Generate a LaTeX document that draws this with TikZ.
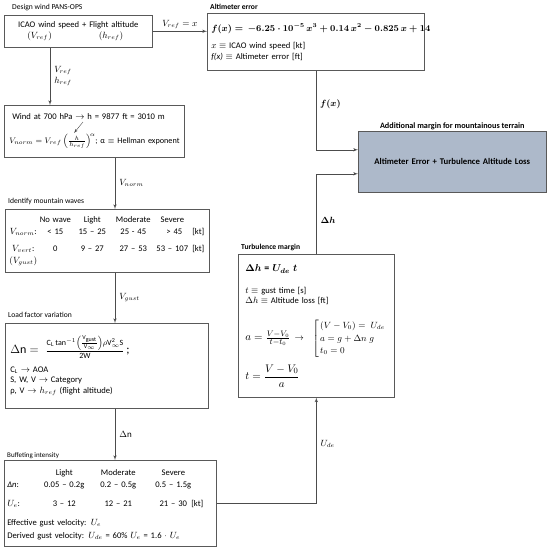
\documentclass[tikz,border=0pt]{standalone}
\usepackage{amsmath}
\usepackage{fontspec}
\setmainfont{Carlito}
\usepackage{array}
\usepackage{tikz}
\usetikzlibrary{arrows, positioning, calc}
\newcolumntype{C}[1]{>{\centering\arraybackslash}p{#1}}
\newcolumntype{L}[1]{>{\raggedright\arraybackslash}p{#1}}
\setlength{\tabcolsep}{0pt}
\definecolor{targetfill}{HTML}{ADB9CA}
\tikzstyle{line} = [draw=black!70, line width=0.6pt, -latex']
\tikzstyle{box} = [rectangle, draw=black!65, line width=0.6pt, anchor=north west, inner xsep=5pt, inner ysep=0pt, align=left, font=\fontsize{8.6}{10.5}\selectfont]
\tikzstyle{head} = [anchor=south west, inner sep=1pt, font=\fontsize{7.6}{9}\selectfont]
\tikzstyle{bhead} = [head, font=\fontsize{7.6}{9}\selectfont\bfseries]
\tikzstyle{lab} = [inner sep=2pt, font=\fontsize{9}{11}\selectfont]

\begin{document}
\begin{tikzpicture}[x=1pt, y=-1pt]
	\useasboundingbox (0,0) rectangle (550,550);
	
	% left column
	\node [box, minimum width=148pt, minimum height=32pt, text width=138pt, align=center] (icao) at (4,15)
	{ICAO wind speed + Flight altitude\\
	\makebox[138pt][l]{\hspace{18pt}$(V_{ref})$\hfill$(h_{ref})$\hspace{24pt}}};
	\node [head, xshift=7pt, yshift=3pt] (t-design) at (icao.north west) {Design wind PANS-OPS};
	
	\node [box, minimum width=180pt, minimum height=52pt, text width=170pt, inner xsep=5pt] (wind) at (4,105)
	{\hspace{3pt}Wind at 700 hPa $\rightarrow$ h = 9877 ft = 3010 m\\[13pt]
	{\fontsize{8.2}{10}\selectfont\mbox{$V_{norm} = V_{ref}\left(\frac{h}{h_{ref}}\right)^{\!\alpha}$; α $\equiv$ Hellman exponent}}};
	\coordinate (h-from) at ($(wind.north west)+(79,17)$);
	\coordinate (h-to) at ($(wind.north west)+(70,28)$);
	\path [draw=black!70, line width=0.4pt, -latex'] (h-from) -- (h-to);
	
	\node [box, minimum width=204pt, minimum height=63pt, text width=198pt, inner xsep=3pt, font=\fontsize{8.6}{12}\selectfont] (waves) at (5,209)
	{\begin{tabular}{@{}C{30pt}C{34pt}C{40pt}C{42pt}C{36pt}l@{}}
	& No wave & Light & Moderate & Severe & \\
	$V_{norm}$: & < 15 & 15 -- 25 & 25 - 45 & \hspace*{4pt}> 45 & \hspace*{2pt}[kt]\\[5pt]
	$V_{vert}$: & 0 & 9 -- 27 & 27 -- 53 & 53 -- 107 & \hspace*{2pt}[kt]\\
	$(V_{gust})$ & & & & & \\
	\end{tabular}};
	\node [head, xshift=2pt, yshift=3pt] (t-waves) at (waves.north west) {Identify mountain waves};
	
	\node [box, minimum width=203pt, minimum height=85pt, text width=193pt] (load) at (5,323)
	{{\fontsize{12}{14}\selectfont $\Delta\mathrm{n} = \;\frac{\mathrm{C_L}\tan^{-1}\left(\frac{\mathrm{V_{gust}}}{\mathrm{V_\infty}}\right)\rho\mathrm{V_\infty^2 S}}{\mathrm{2W}}$\,;}\\[8pt]
	C$_\mathrm{L}$ $\rightarrow$ AOA\\
	S, W, V $\rightarrow$ Category\\
	ρ, V $\rightarrow$ $h_{ref}$ (flight altitude)};
	\node [head, xshift=2pt, yshift=4pt] (t-load) at (load.north west) {Load factor variation};
	
	\node [box, minimum width=212pt, minimum height=86pt, text width=206pt, inner xsep=3pt, font=\fontsize{8.6}{12}\selectfont] (buff) at (4,460)
	{\begin{tabular}[b]{@{}L{31pt}C{52pt}C{56pt}C{54pt}@{}}
	& Light & Moderate & Severe\\
	\textit{Δn}: & 0.05 -- 0.2g & 0.2 -- 0.5g & 0.5 -- 1.5g\\[7pt]
	$U_e$: & 3 -- 12 & 12 -- 21 & 21 -- 30\rlap{\enspace[kt]}\\
	\end{tabular}\\[7pt]
	Effective gust velocity: $U_e$\\[1pt]
	Derived gust velocity: $U_{de}$ = 60\% $U_e$ = 1.6 $\cdot$ $U_e$};
	\node [head, xshift=2pt, yshift=0pt, font=\fontsize{7}{8}\selectfont] (t-buff) at (buff.north west) {Buffeting intensity};
	
	% right column
	\node [box, minimum width=217pt, minimum height=57pt, text width=209pt, inner xsep=4pt] (alt) at (207,13)
	{{\fontsize{8.8}{11}\selectfont\boldmath \mbox{$f(x) =\, -6.25\cdot 10^{-5}\,x^3 + 0.14\,x^2 - 0.825\,x + 14$}}\\[7pt]
	$x \equiv$ ICAO wind speed [kt]\\
	\textit{f(x)} $\equiv$ Altimeter error [ft]};
	\node [bhead, xshift=2pt, yshift=2pt] (t-alt) at (alt.north west) {Altimeter error};
	
	\node [box, minimum width=188pt, minimum height=61pt, text width=178pt, align=center, fill=targetfill, font=\fontsize{8.7}{10}\selectfont\bfseries] (target) at (358,131)
	{Altimeter Error + Turbulence Altitude Loss};
	\node [bhead, anchor=south, above=0pt of target, font=\fontsize{8.2}{9}\selectfont\bfseries] (t-target) {Additional margin for mountainous terrain};
	
	\node [box, minimum width=156pt, minimum height=143pt, text width=142pt, inner xsep=7pt] (turb) at (238,254)
	{{\fontsize{10}{12}\selectfont\bfseries\boldmath $\Delta h$ = $U_{de}\;t$}\\[11pt]
	$t\equiv$ gust time [s]\\
	$\Delta h \equiv$ Altitude loss [ft]\\[14pt]
	{\fontsize{11}{13}\selectfont $a = \frac{V-V_0}{t-t_0}$}\enspace$\rightarrow$\quad{\fontsize{8.6}{11}\selectfont\def\arraystretch{1.15}$\left[\begin{array}{@{\,}l@{}}(V-V_0) = \;U_{de}\\ a = g + \Delta n\; g\\ t_0 = 0\end{array}\right.$}\\[6pt]
	{\fontsize{11}{13}\selectfont $t = \dfrac{V-V_0}{a}$}};
	\node [bhead, xshift=2pt, yshift=2pt] (t-turb) at (turb.north west) {Turbulence margin};
	
	% connectors
	\coordinate (spine) at (115,0);
	\coordinate (fx-in) at ([yshift=12pt]target.west);
	\coordinate (dh-in) at ([yshift=-12pt]target.west);
	\coordinate (fx-bend) at (alt.south |- fx-in);
	\coordinate (dh-bend) at (turb.north |- dh-in);
	\coordinate (ude-bend) at (buff.east -| turb.south);
	\path [line] (icao.east) -- node [lab, above] {$V_{ref} = x$} (icao.east -| alt.west);
	\path [line] ([xshift=46pt]icao.south west) -- node [lab, right, align=left, xshift=2pt] {$V_{ref}$\\$h_{ref}$} ([xshift=46pt]icao.south west |- wind.north);
	\path [line] (wind.south -| spine) -- node [lab, right, xshift=2pt] {$V_{norm}$} (waves.north -| spine);
	\path [line] (waves.south -| spine) -- node [lab, right, xshift=2pt] {$V_{gust}$} (load.north -| spine);
	\path [line] (load.south -| spine) -- node [lab, right, xshift=2pt] {$\Delta$n} (buff.north -| spine);
	
	\path [line] (alt.south) -- (fx-bend) -- (fx-in);
	\path [line] (turb.north) -- (dh-bend) -- (dh-in);
	\path [line] (buff.east) -- (ude-bend) -- (turb.south);
	\node [lab, anchor=west, xshift=2pt] (l-fx) at ($(alt.south)!0.42!(fx-bend)$) {{\boldmath $f(x)$}};
	\node [lab, anchor=west, xshift=2pt] (l-dh) at ($(turb.north)!0.42!(dh-bend)$) {{\boldmath $\Delta h$}};
	\node [lab, anchor=west, xshift=2pt] (l-ude) at ($(ude-bend)!0.56!(turb.south)$) {$U_{de}$};
	
\end{tikzpicture}
\end{document}
